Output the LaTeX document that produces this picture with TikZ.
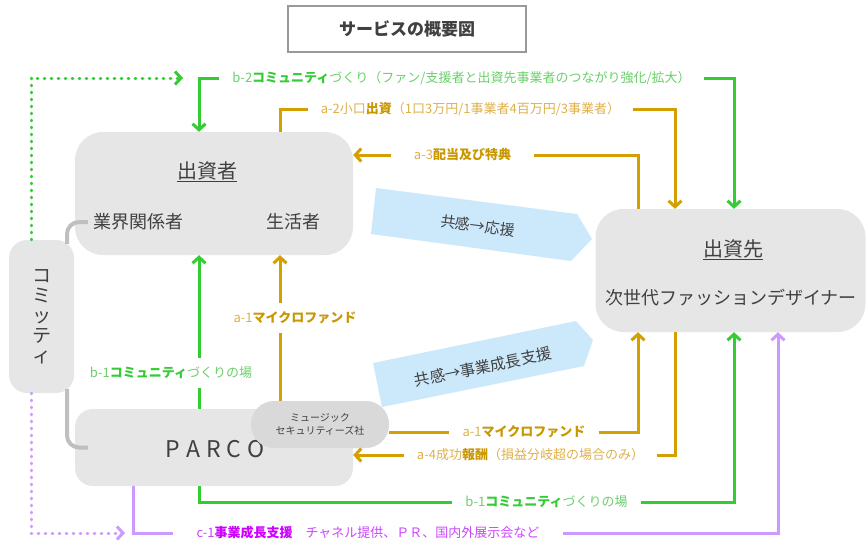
\documentclass[tikz,border=0pt]{standalone}
\usepackage{fontspec}
\setmainfont{Noto Sans CJK JP}
\usetikzlibrary{arrows.meta, positioning}
\definecolor{boxgray}{HTML}{E6E6E6}
\definecolor{msgray}{HTML}{D9D9D9}
\definecolor{linkgray}{HTML}{BFBFBF}
\definecolor{titlegray}{HTML}{999999}
\definecolor{txt}{HTML}{404040}
\definecolor{sky}{HTML}{CCE9FB}
\definecolor{grn}{HTML}{33CC33}
\definecolor{grntxt}{HTML}{6ACF6A}
\definecolor{org}{HTML}{D49F00}
\definecolor{orgtxt}{HTML}{DDB04C}
\definecolor{orgbold}{HTML}{C99700}
\definecolor{prp}{HTML}{CC99FF}
\definecolor{prptxt}{HTML}{CC44FF}
\definecolor{prpbold}{HTML}{CC00FF}

\begin{document}
\begin{tikzpicture}[x=1pt, y=-1pt,
    box/.style={fill=boxgray, inner sep=0pt},
    big/.style={font=\fontsize{20}{22}\selectfont, text=txt},
    mid/.style={font=\fontsize{18}{20}\selectfont, text=txt, inner sep=5pt},
    lbl/.style={font=\fontsize{13}{15}\selectfont, inner ysep=2pt, inner xsep=13pt},
    wide/.style={inner xsep=23pt},
    gap/.style={fill=white, inner xsep=2pt, inner ysep=9pt},
    gline/.style={draw=grn, line width=3pt},
    oline/.style={draw=org, line width=3pt},
    pline/.style={draw=prp, line width=3pt},
    dots/.style={line cap=round, dash pattern=on 0.6pt off 6.4pt},
    arr/.style={-{Straight Barb[length=6pt,width=13pt]}}]
    \useasboundingbox (0,0) rectangle (866,539);

    % Columns of the connectors
    \coordinate (colD) at (31,0);
    \coordinate (colG) at (67,0);
    \coordinate (colC1) at (133,0);
    \coordinate (colB1) at (199,0);
    \coordinate (colA1) at (280,0);
    \coordinate (colA3) at (638,0);
    \coordinate (colA2) at (675,0);
    \coordinate (colB2) at (734,0);
    \coordinate (colC2) at (778,0);
    \coordinate (b2tip) at (183,78);
    \coordinate (c1tip) at (125,533);

    % Empathy arrows
    \fill[sky] (376,188) -- (577,214) -- (592,239) -- (571,261) -- (371,234) -- cycle;
    \fill[sky] (373,363) -- (576,321) -- (593,340) -- (584,366) -- (382,407) -- cycle;
    \node (support) [font=\fontsize{15}{17}\selectfont, text=txt, rotate=-7.4] at (478,226) {共感→応援};
    \node (growth) [font=\fontsize{15.5}{17}\selectfont, text=txt, rotate=11.7] at (483,367) {共感→事業成長支援};

    % Title
    \node (title) [draw=titlegray, line width=2pt, minimum width=238pt, minimum height=46pt,
        font=\bfseries\fontsize{17}{20}\selectfont, text=txt] at (407,29) {サービスの概要図};

    % Boxes
    \node (investor) [box, rounded corners=28pt, minimum width=278pt, minimum height=123pt] at (214,193.5) {};
    \node (inv) [big] at (207,172) {\underline{出資者}};
    \node (ind) [mid] at (138,222) {業界関係者};
    \node (cons) [mid] at (293,222) {生活者};

    \node (dest) [box, rounded corners=28pt, minimum width=270pt, minimum height=123pt] at (730.5,270.5) {};
    \node (desttitle) [big] at (733,250) {\underline{出資先}};
    \node (destsub) [mid] at (731,298) {次世代ファッションデザイナー};

    \node (committee) [box, rounded corners=18pt, minimum width=65pt, minimum height=153pt, align=center,
        font=\fontsize{19}{20}\selectfont, text=txt] at (41.5,316.5) {コ\\ミ\\ッ\\テ\\ィ};

    \node (parco) [box, rounded corners=18pt, minimum width=278pt, minimum height=77pt] at (214,447.5) {};
    \node (parcotxt) [font=\fontsize{23}{26}\selectfont, text=txt] at (215,449)
        {P\hspace{6pt}A\hspace{6pt}R\hspace{6pt}C\hspace{6pt}O};

    \node (msec) [fill=msgray, rounded corners=23pt, minimum width=138pt, minimum height=47pt, inner sep=0pt,
        align=center, font=\fontsize{10}{13}\selectfont, text=txt] at (320,424.5) {ミュージック\\セキュリティーズ社};

    % Committee links
    \draw[linkgray, line width=4pt, rounded corners=12pt, shorten >=-4pt] (ind.west) -| (committee.north -| colG);
    \draw[linkgray, line width=4pt, rounded corners=12pt, shorten <=-4pt] (committee.south -| colG) |- ([xshift=13pt]parco.west);
    \draw[gline, dots, arr] (committee.north -| colD) |- (b2tip);
    \draw[pline, dots, arr] (committee.south -| colD) |- (c1tip);

    % Labels
    \node (b2lbl) [lbl, text=grntxt] at (461.5,78)
        {b-2\textbf{\color{grn}コミュニティ}づくり（ファン/支援者と出資先事業者のつながり強化/拡大）};
    \node (a2lbl) [lbl, text=orgtxt] at (470.5,109)
        {a-2小口\textbf{\color{orgbold}出資}（1口3万円/1事業者4百万円/3事業者）};
    \node (a3lbl) [lbl, wide, text=orgtxt] at (462.5,155) {a-3\textbf{\color{orgbold}配当及び特典}};
    \node (a1hlbl) [lbl, text=orgtxt] at (524,432) {a-1\textbf{\color{orgbold}マイクロファンド}};
    \node (a4lbl) [lbl, text=orgtxt] at (530.5,455)
        {a-4成功\textbf{\color{orgbold}報酬}（損益分岐超の場合のみ）};
    \node (b1lbl) [lbl, text=grntxt] at (546.5,502) {b-1\textbf{\color{grn}コミュニティ}づくりの場};
    \node (c1lbl) [lbl, wide, text=prptxt] at (368,533)
        {c-1\textbf{\color{prpbold}事業成長支援}　チャネル提供、ＰＲ、国内外展示会など};

    % Arrows
    \draw[gline, arr] (b2lbl.west) -| (investor.north -| colB1);
    \draw[gline, arr] (b2lbl.east) -| (dest.north -| colB2);
    \draw[oline] (investor.north -| colA1) |- (a2lbl.west);
    \draw[oline, arr] (a2lbl.east) -| (dest.north -| colA2);
    \draw[oline] (dest.north -| colA3) |- (a3lbl.east);
    \draw[oline, arr] (a3lbl.west) -- (investor.east |- a3lbl);
    \draw[oline, arr] (msec.north -| colA1) -- (investor.south -| colA1);
    \draw[gline, arr] (parco.north -| colB1) -- (investor.south -| colB1);
    \draw[oline] (msec.east |- a1hlbl) -- (a1hlbl.west);
    \draw[oline, arr] (a1hlbl.east) -| (dest.south -| colA3);
    \draw[oline] (dest.south -| colA2) |- (a4lbl.east);
    \draw[oline, arr] (a4lbl.west) -- (parco.east |- a4lbl);
    \draw[gline] (parco.south -| colB1) |- (b1lbl.west);
    \draw[gline, arr] (b1lbl.east) -| (dest.south -| colB2);
    \draw[pline] (parco.south -| colC1) |- (c1lbl.west);
    \draw[pline, arr] (c1lbl.east) -| (dest.south -| colC2);
    \node (a1vlbl) [lbl, gap, text=orgtxt] at (295,318) {a-1\textbf{\color{orgbold}マイクロファンド}};
    \node (b1vlbl) [lbl, gap, text=grntxt] at (171,373) {b-1\textbf{\color{grn}コミュニティ}づくりの場};
\end{tikzpicture}
\end{document}
